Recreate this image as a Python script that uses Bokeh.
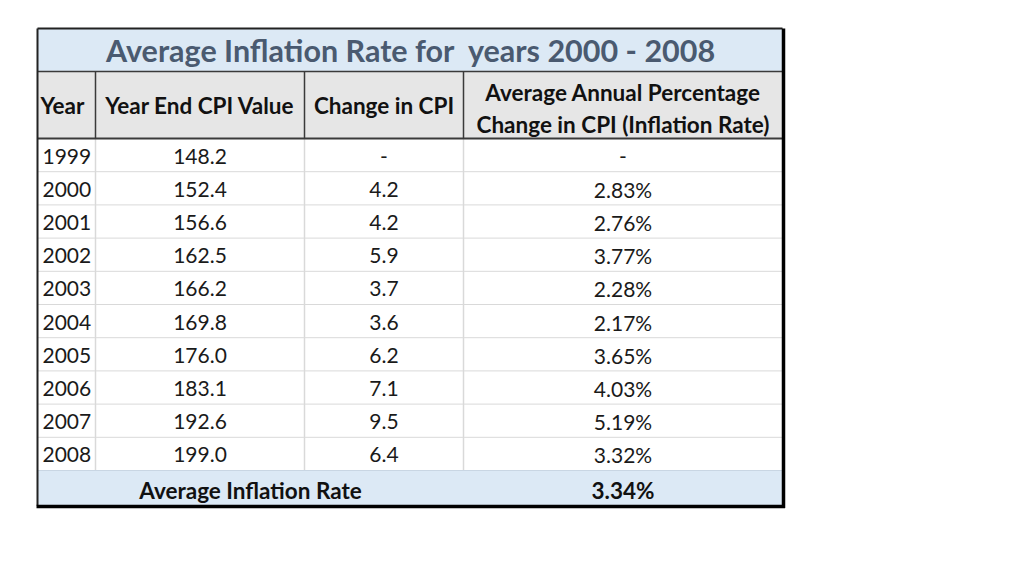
from bokeh.plotting import figure
from bokeh.models import ColumnDataSource, Range1d
from bokeh.core.properties import value
from bokeh.embed import file_html
from bokeh.resources import INLINE

# ---- data ----
title = "Average Inflation Rate for\u00a0 years 2000 - 2008"
col_headers = ["Year", "Year End CPI Value", "Change in CPI"]
last_header = ["Average Annual Percentage", "Change in CPI (Inflation Rate)"]
years = ["1999", "2000", "2001", "2002", "2003", "2004", "2005", "2006", "2007", "2008"]
cpi = [148.2, 152.4, 156.6, 162.5, 166.2, 169.8, 176.0, 183.1, 192.6, 199.0]
change = [None, 4.2, 4.2, 5.9, 3.7, 3.6, 6.2, 7.1, 9.5, 6.4]
inflation = [None, 2.83, 2.76, 3.77, 2.28, 2.17, 3.65, 4.03, 5.19, 3.32]
avg_label = "Average Inflation Rate"
avg_rate = 3.34

# ---- geometry (page pixels) ----
X = [37, 95, 304, 463, 782]
TOP, TITLE_B, HEAD_B = 28, 71, 138
ROW_H = 33.2
AVG_T, AVG_B = 470, 505
FONT = value("Lato")
BODY = value("21px")
HEAD = value("22.5px")

p = figure(width=1008, height=549, x_range=Range1d(0, 1008), y_range=Range1d(549, 0),
           output_backend="svg", toolbar_location=None, min_border=0)
p.axis.visible = False
p.grid.visible = False
p.outline_line_color = None
p.background_fill_color = "white"

# backgrounds
p.quad(left=[X[0], X[0], X[0]], right=[X[4], X[4], X[4]],
       top=[TOP, TITLE_B, AVG_T], bottom=[TITLE_B, HEAD_B, AVG_B],
       fill_color=["#dce9f5", "#e6e6e6", "#dce9f5"], line_color=None)

# light data grid
n = len(years)
row_tops = [HEAD_B + i * ROW_H for i in range(n)]
hy = row_tops[1:]
p.segment(x0=[X[0]] * len(hy), x1=[X[4]] * len(hy), y0=hy, y1=hy,
          line_color="#d9d9d9", line_width=1)
p.segment(x0=X[1:4], x1=X[1:4], y0=[HEAD_B] * 3, y1=[AVG_T] * 3,
          line_color="#d9d9d9", line_width=1.5)
p.segment(x0=[X[0]], x1=[X[4]], y0=[AVG_T], y1=[AVG_T], line_color="#c9d6e3", line_width=1)

# dark header lines
p.segment(x0=X[1:4], x1=X[1:4], y0=[TITLE_B] * 3, y1=[HEAD_B] * 3,
          line_color="#3a3a3a", line_width=1.5)
p.segment(x0=[X[0], X[0]], x1=[X[4], X[4]], y0=[TITLE_B, HEAD_B], y1=[TITLE_B, HEAD_B],
          line_color="#3a3a3a", line_width=[1.5, 2])

# outer border
p.segment(x0=[X[0], X[0]], x1=[X[4], X[0]], y0=[TOP, TOP], y1=[TOP, AVG_B],
          line_color="#222222", line_width=2)
p.segment(x0=[X[0] - 1, X[4] + 1], x1=[X[4] + 2.5, X[4] + 1], y0=[AVG_B + 1, TOP],
          y1=[AVG_B + 1, AVG_B + 2.5], line_color="#000000", line_width=3.5)

# title
p.text(x=[(X[0] + X[4]) / 2 + 1], y=[(TOP + TITLE_B) / 2], text=[title],
       text_font=FONT, text_font_size=value("30.5px"), text_font_style="bold",
       text_color="#4a5a70", text_align="center", text_baseline="middle")

# headers
hc = (TITLE_B + HEAD_B) / 2
p.text(x=[X[0] + 3, (X[1] + X[2]) / 2, (X[2] + X[3]) / 2], y=[hc] * 3, text=col_headers,
       text_font=FONT, text_font_size=HEAD, text_font_style="bold",
       text_color="#111111", text_align=["left", "center", "center"], text_baseline="middle")
p.text(x=[(X[3] + X[4]) / 2] * 2, y=[hc - 13, hc + 19], text=last_header,
       text_font=FONT, text_font_size=HEAD, text_font_style="bold",
       text_color="#111111", text_align="center", text_baseline="middle")

# body
cy = [t + ROW_H / 2 + 1 for t in row_tops]
src = ColumnDataSource(dict(
    y=cy,
    year=years,
    cpi=[f"{v:.1f}" for v in cpi],
    chg=["-" if v is None else f"{v:.1f}" for v in change],
    inf=["-" if v is None else f"{v:.2f}%" for v in inflation],
))
common = dict(text_font=FONT, text_font_size=BODY, text_color="#1a1a1a",
              text_baseline="middle")
p.text(x=X[0] + 5, y="y", text="year", source=src, text_align="left", **common)
p.text(x=(X[1] + X[2]) / 2, y="y", text="cpi", source=src, text_align="center", **common)
p.text(x=(X[2] + X[3]) / 2, y="y", text="chg", source=src, text_align="center", **common)
p.text(x=(X[3] + X[4]) / 2, y="y", text="inf", source=src, text_align="center", **common)

# average row
ac = (AVG_T + AVG_B) / 2 + 2
p.text(x=[(X[0] + X[3]) / 2, (X[3] + X[4]) / 2], y=[ac, ac],
       text=[avg_label, f"{avg_rate:.2f}%"], text_font=FONT,
       text_font_size=value("22.5px"), text_font_style="bold", text_color="#111111",
       text_align="center", text_baseline="middle")

open("out.html", "w").write(file_html(p, INLINE))
